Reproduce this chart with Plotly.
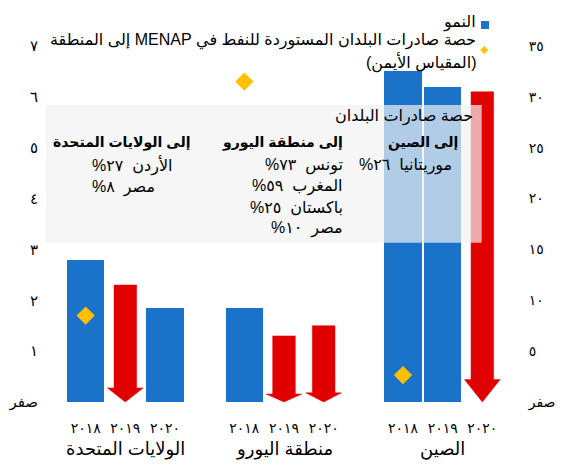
import plotly.graph_objects as go

# ---------------- data ----------------
regions = ["الولايات المتحدة", "منطقة اليورو", "الصين"]
years = ["٢٠١٨", "٢٠١٩", "٢٠٢٠"]
growth_us = [2.8, 2.3, 1.85]
growth_euro = [1.85, 1.3, 1.5]
growth_china = [6.5, 6.2, 6.1]
# True -> drawn as a red downward arrow
down_us = [False, True, False]
down_euro = [False, True, True]
down_china = [False, False, True]
# share of MENAP oil importers' exports to the region (right scale), 2018
export_share = [8.5, 31.5, 2.65]

left_tick_vals = [0, 1, 2, 3, 4, 5, 6, 7]
left_tick_text = ["صفر", "١", "٢", "٣", "٤", "٥", "٦", "٧"]
right_tick_vals = [0, 5, 10, 15, 20, 25, 30, 35]
right_tick_text = ["صفر", "٥", "١٠", "١٥", "٢٠", "٢٥", "٣٠", "٣٥"]

legend_growth = "النمو"
legend_share = ["حصة صادرات البلدان المستوردة للنفط في MENAP إلى المنطقة", "(المقياس الأيمن)"]

box_title = "حصة صادرات البلدان"
box_headers = ["إلى الولايات المتحدة", "إلى منطقة اليورو", "إلى الصين"]
partners_us = ["الأردن", "مصر"]
shares_us = [27, 8]
partners_euro = ["تونس", "المغرب", "باكستان", "مصر"]
shares_euro = [73, 59, 25, 10]
partners_china = ["موريتانيا"]
shares_china = [26]

# ---------------- helpers ----------------
BLUE = "#1a73c9"
RED = "#e00000"
GOLD = "#ffc000"
FONT = "Liberation Sans, DejaVu Sans, sans-serif"

OFF = 8  # page margin of the html body
W, H = 563 - OFF, 466 - OFF
# plot area in window pixels: x 46..522, y 46..402
ML, MR, MT, MB = 46 - OFF, 563 - OFF - (522 - OFF), 46 - OFF, (466 - OFF) - (402 - OFF)
PW, PH = W - ML - MR, H - MT - MB
XR = [-1, 11]
YR = [0, 7]


def ar_num(n):
    return str(n).translate(str.maketrans("0123456789", "٠١٢٣٤٥٦٧٨٩"))


def rtl(s):
    return "\u202b" + s + "\u202c"


def px2x(px):
    return XR[0] + (px - OFF - ML) / PW * (XR[1] - XR[0])


def py2y(py):
    return YR[0] + (MT + PH - (py - OFF)) / PH * (YR[1] - YR[0])


def px2paper(px):
    return (px - OFF - ML) / PW


def py2paper(py):
    return (MT + PH - (py - OFF)) / PH


growth = [growth_us, growth_euro, growth_china]
down = [down_us, down_euro, down_china]

slots, values, is_down, tick_text = [], [], [], []
for g in range(len(regions)):
    for i in range(len(years)):
        slots.append(g * (len(years) + 1) + i)
        values.append(growth[g][i])
        is_down.append(down[g][i])
        tick_text.append(years[i])

blue_x = [s for s, d in zip(slots, is_down) if not d]
blue_y = [v for v, d in zip(values, is_down) if not d]

# arrow polygons built from the values
ax, ay = [], []
WS, WH = 0.285, 0.45
for s, v, d in zip(slots, values, is_down):
    if not d:
        continue
    h = min(0.12 * v, 0.44)
    ax += [s - WS, s + WS, s + WS, s + WH, s, s - WH, s - WS, s - WS, None]
    ay += [v, v, h, h, 0, h, h, v, None]

share_x = [g * (len(years) + 1) for g in range(len(regions))]

fig = go.Figure()
fig.add_trace(go.Bar(x=blue_x, y=blue_y, width=0.94, marker=dict(color=BLUE, line=dict(width=0)),
                     name=legend_growth, showlegend=False, hoverinfo="skip"))
fig.add_trace(go.Scatter(x=ax, y=ay, mode="lines", fill="toself", fillcolor=RED,
                         line=dict(color=RED, width=0.5), showlegend=False, hoverinfo="skip"))
fig.add_trace(go.Scatter(x=share_x, y=export_share, yaxis="y2", mode="markers",
                         marker=dict(symbol="diamond", size=14, color=GOLD),
                         showlegend=False, hoverinfo="skip"))

shapes = []
# shaded info box
shapes.append(dict(type="rect", xref="x", yref="y", x0=px2x(46), x1=px2x(481.7),
                   y0=py2y(242.7), y1=py2y(105), fillcolor="#f2f2f2", opacity=0.7,
                   line=dict(width=0), layer="above"))
# legend markers
shapes.append(dict(type="rect", xref="paper", yref="paper", x0=px2paper(481), x1=px2paper(489),
                   y0=py2paper(29), y1=py2paper(21), fillcolor=BLUE, line=dict(width=0)))
cx, cy, r = 484.3, 50, 4
shapes.append(dict(type="path", xref="paper", yref="paper",
                   path="M {},{} L {},{} L {},{} L {},{} Z".format(
                       px2paper(cx - r), py2paper(cy), px2paper(cx), py2paper(cy - r),
                       px2paper(cx + r), py2paper(cy), px2paper(cx), py2paper(cy + r)),
                   fillcolor=GOLD, line=dict(width=0)))

ann = []
row_font = dict(family=FONT, size=16, color="black")
head_font = dict(family=FONT, size=14, color="black")
# legend texts
ann.append(dict(xref="paper", yref="paper", x=px2paper(478), y=py2paper(23), text=rtl(legend_growth),
                showarrow=False, xanchor="right", yanchor="middle", font=dict(family=FONT, size=16, color="black")))
for k, line in enumerate(legend_share):
    ann.append(dict(xref="paper", yref="paper", x=px2paper(478), y=py2paper(41 + 21 * k), text=rtl(line),
                    showarrow=False, xanchor="right", yanchor="middle",
                    font=dict(family=FONT, size=16, color="black")))
# box title
ann.append(dict(xref="x", yref="y", x=px2x(475), y=py2y(116), text=rtl(box_title), showarrow=False,
                xanchor="right", yanchor="middle", font=dict(family=FONT, size=16, color="black")))
# column headers and rows
head_right = [191.7, 345, 460]
row_anchor = [("left", 90), ("right", 345), ("right", 454)]
row_gap = [22, 21, 22]
partners = [partners_us, partners_euro, partners_china]
shares = [shares_us, shares_euro, shares_china]
for g in range(3):
    ann.append(dict(xref="x", yref="y", x=px2x(head_right[g]), y=py2y(142), text=rtl("<b>" + box_headers[g] + "</b>"),
                    showarrow=False, xanchor="right", yanchor="middle", font=head_font))
    anc, xp = row_anchor[g]
    for k, (p, s) in enumerate(zip(partners[g], shares[g])):
        ann.append(dict(xref="x", yref="y", x=px2x(xp), y=py2y(165 + row_gap[g] * k),
                        text=rtl(p + "\u00a0\u00a0" + ar_num(s) + "%"), showarrow=False, xanchor=anc,
                        yanchor="middle", font=row_font))
# region labels under the years
for g, name in enumerate(regions):
    ann.append(dict(xref="x", yref="paper", x=g * (len(years) + 1) + 1, y=py2paper(449), text=rtl(name),
                    showarrow=False, xanchor="center", yanchor="middle",
                    font=dict(family=FONT, size=18, color="black")))

axis_common = dict(showgrid=False, zeroline=False, showline=False, automargin=False, fixedrange=True)
fig.update_layout(
    width=W, height=H,
    margin=dict(l=ML, r=MR, t=MT, b=MB, pad=0),
    paper_bgcolor="white", plot_bgcolor="white",
    showlegend=False,
    bargap=0,
    xaxis=dict(range=XR, tickmode="array", tickvals=slots, ticktext=tick_text,
               ticks="outside", ticklen=13, tickcolor="rgba(0,0,0,0)",
               tickfont=dict(family=FONT, size=14, color="black"), **axis_common),
    yaxis=dict(range=YR, tickmode="array", tickvals=left_tick_vals, ticktext=left_tick_text,
               ticks="outside", ticklen=4, tickcolor="rgba(0,0,0,0)",
               tickfont=dict(family=FONT, size=15, color="black"), **axis_common),
    yaxis2=dict(range=[0, 35], overlaying="y", side="right", tickmode="array",
                tickvals=right_tick_vals, ticktext=right_tick_text,
                ticks="outside", ticklen=3, tickcolor="rgba(0,0,0,0)",
                tickfont=dict(family=FONT, size=14, color="black"), **axis_common),
    shapes=shapes,
    annotations=ann,
)

fig.write_html("out.html")
